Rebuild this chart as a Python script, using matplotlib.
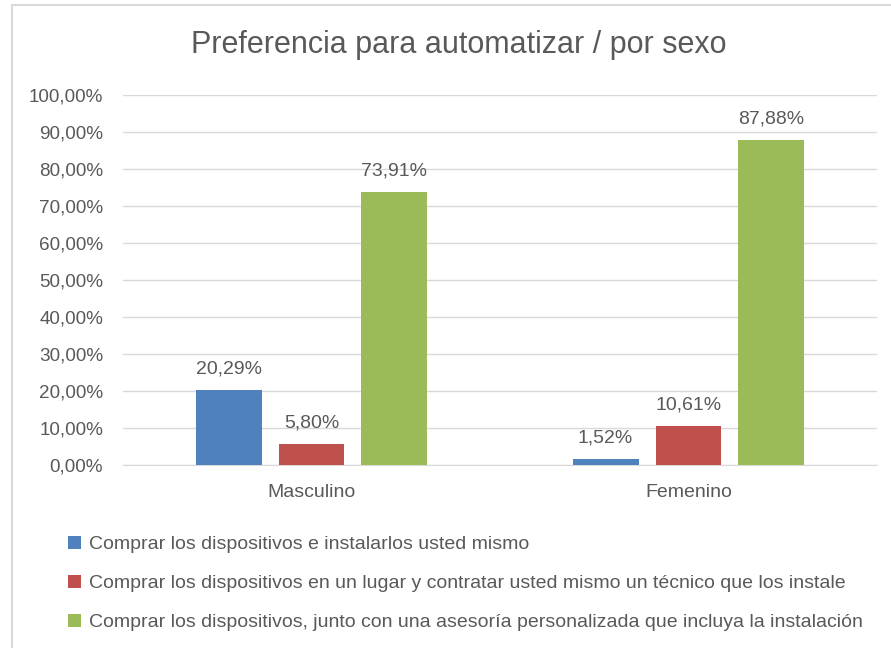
import matplotlib.pyplot as plt
from matplotlib.patches import Rectangle
import numpy as np

categories = ["Masculino", "Femenino"]
series = [
    "Comprar los dispositivos e instalarlos usted mismo",
    "Comprar los dispositivos en un lugar y contratar usted mismo un técnico que los instale",
    "Comprar los dispositivos, junto con una asesoría personalizada que incluya la instalación",
]
values = [
    [20.29, 1.52],
    [5.80, 10.61],
    [73.91, 87.88],
]
colors = ["#4F81BD", "#C0504D", "#9BBB59"]
text_color = "#595959"

plt.rcParams["font.family"] = ["Liberation Sans", "DejaVu Sans"]

fig = plt.figure(figsize=(8.91, 6.48), dpi=100)
fig.patches.append(Rectangle((12 / 891, -0.1), 1.2, 1 - 5 / 648 + 0.1, transform=fig.transFigure,
                             fill=False, edgecolor="#D9D9D9", linewidth=1.5))
ax = fig.add_axes([123 / 891, 1 - 465 / 648, (877 - 123) / 891, (465 - 95) / 648])

x = np.arange(len(categories))
width = 0.175
offsets = [-0.22, 0.0, 0.22]
for vals, off, col, lab in zip(values, offsets, colors, series):
    bars = ax.bar(x + off, vals, width, color=col, label=lab, zorder=3)
    for b, v in zip(bars, vals):
        ax.annotate(f"{v:.2f}%".replace(".", ","), (b.get_x() + b.get_width() / 2, v),
                    xytext=(0, 9), textcoords="offset points", ha="center", va="bottom",
                    fontsize=14, color=text_color)

ax.set_xlim(-0.5, 1.5)
ax.set_ylim(0, 100)
yt = np.arange(0, 101, 10)
ax.set_yticks(yt)
ax.set_yticklabels([f"{v:.2f}%".replace(".", ",") for v in yt], fontsize=13.6, color=text_color)
ax.set_xticks(x)
ax.set_xticklabels(categories, fontsize=14, color=text_color)
ax.tick_params(axis="x", length=0, pad=14)
ax.tick_params(axis="y", length=0, pad=14.4)
ax.grid(axis="y", color="#D9D9D9", linewidth=1, zorder=0)
for s in ["top", "right", "left"]:
    ax.spines[s].set_visible(False)
ax.spines["bottom"].set_color("#D9D9D9")

fig.text(458.5 / 891, 1 - 45 / 648, "Preferencia para automatizar / por sexo",
         ha="center", va="center", fontsize=22, color=text_color)

fig.legend(loc="upper left", bbox_to_anchor=(50 / 891, 1 - 518 / 648), frameon=False,
           fontsize=14, handlelength=0.7, handleheight=0.7, handletextpad=0.4,
           labelspacing=1.1, labelcolor=text_color)

fig.savefig("out.png", dpi=100)
